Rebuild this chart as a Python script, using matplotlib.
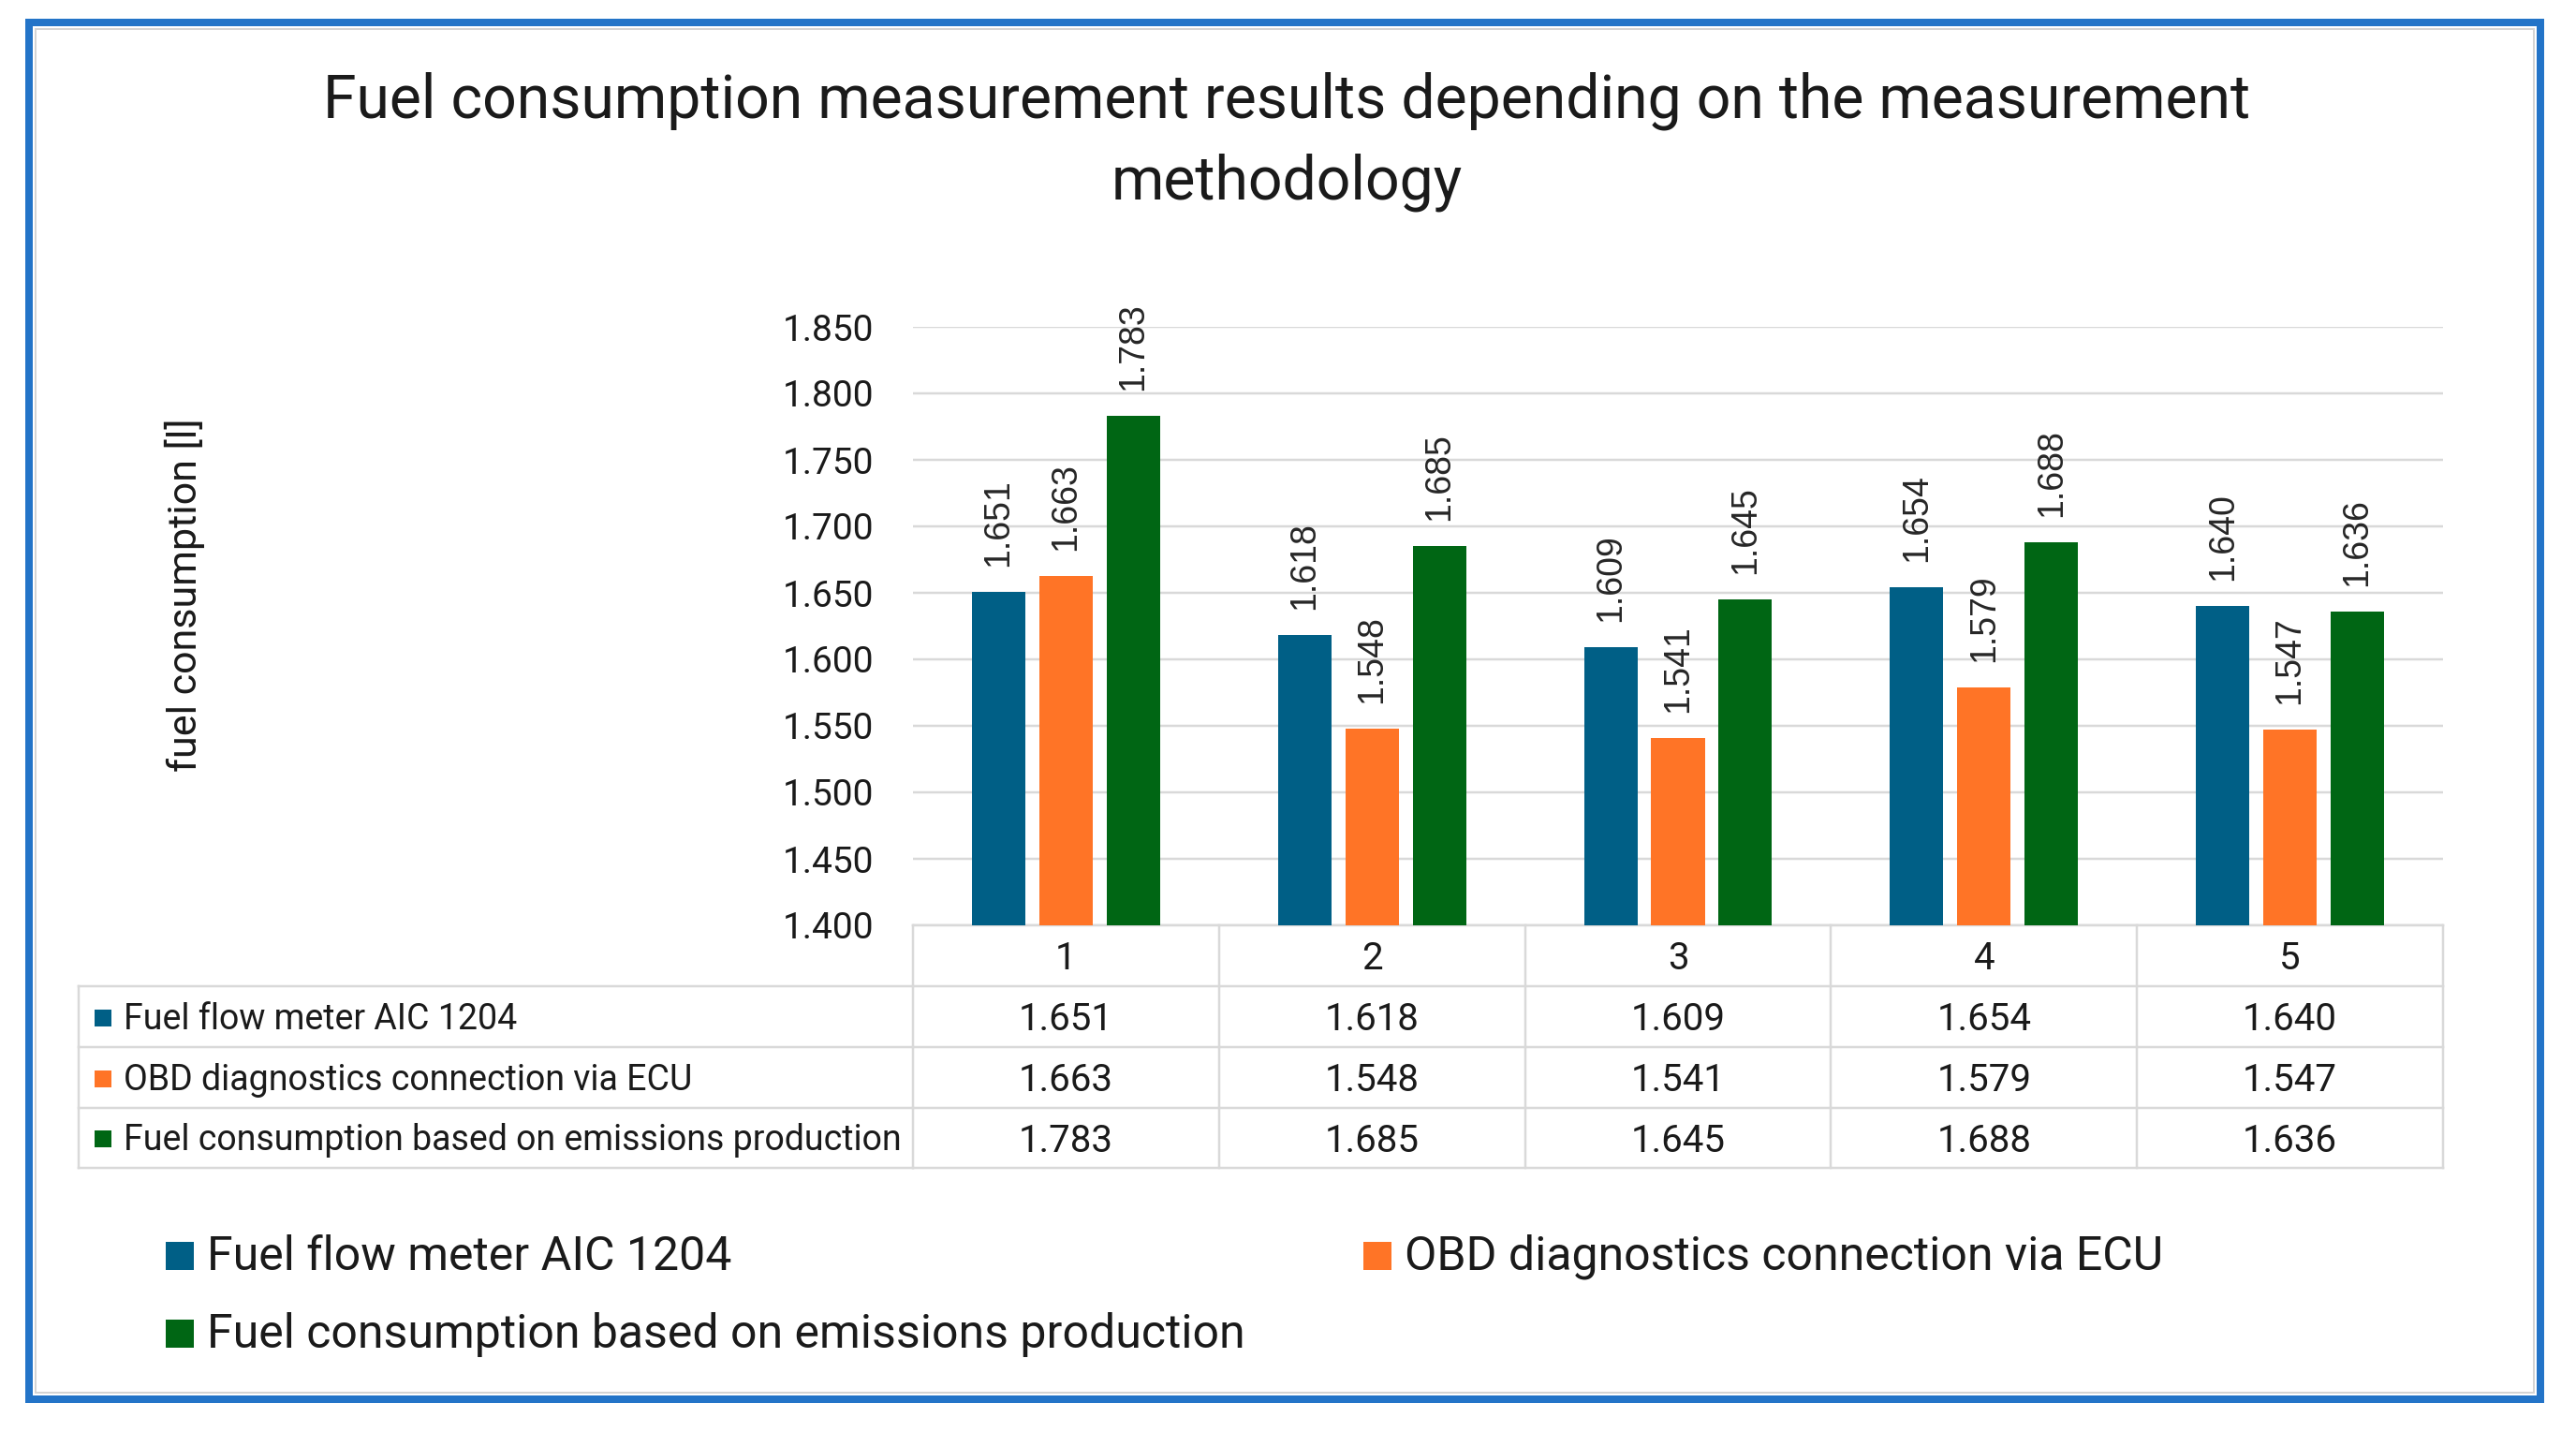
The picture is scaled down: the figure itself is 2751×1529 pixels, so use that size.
import numpy as np
import matplotlib
matplotlib.use('Agg')
import matplotlib.pyplot as plt
from matplotlib import transforms
from matplotlib.patches import Rectangle

categories = ['1', '2', '3', '4', '5']
series_names = ['Fuel flow meter AIC 1204',
                'OBD diagnostics connection via ECU',
                'Fuel consumption based on emissions production']
flow_meter = [1.651, 1.618, 1.609, 1.654, 1.640]
obd_ecu = [1.663, 1.548, 1.541, 1.579, 1.547]
emissions = [1.783, 1.685, 1.645, 1.688, 1.636]
y_ticks = [1.400, 1.450, 1.500, 1.550, 1.600, 1.650, 1.700, 1.750, 1.800, 1.850]

title = 'Fuel consumption measurement results depending on the measurement\nmethodology'
y_label = 'fuel consumption [l]'
colors = ['#005f86', '#ff7426', '#006614']
grid_color = '#d9d9d9'
text_font = 'Roboto'
label_font = 'Liberation Sans'

W, H = 2751, 1529
PX = 0.72  # points per pixel at dpi 100


def main():
	series = [flow_meter, obd_ecu, emissions]
	fig = plt.figure(figsize=(W / 100, H / 100), dpi=100)

	# overlay axes in pixel coordinates for frame, table and legend
	bg = fig.add_axes([0, 0, 1, 1], zorder=0)
	bg.set_xlim(0, W)
	bg.set_ylim(H, 0)
	bg.axis('off')

	bg.add_patch(Rectangle((38, 31), 2668, 1456, fill=False, edgecolor='#d4d4d4', lw=2 * PX))
	bg.add_patch(Rectangle((31, 24), 2682, 1470, fill=False, edgecolor='#2374c8', lw=8 * PX))

	bg.text(1374, 151, title, ha='center', va='center', family=text_font,
	        fontsize=46.4, linespacing=1.5, color='#1a1a1a')
	bg.text(197, 635, y_label, ha='center', va='center', rotation=90,
	        family=text_font, fontsize=31, color='#1a1a1a')

	# bar chart
	ax = fig.add_axes([975 / W, 1 - 988 / H, (2609 - 975) / W, (988 - 349) / H], zorder=1)
	ax.patch.set_alpha(0)
	x = np.arange(len(categories)) + 0.5
	offsets = [-0.22, 0.0, 0.22]
	for vals, off, c in zip(series, offsets, colors):
		bars = ax.bar(x + off, vals, width=0.175, color=c, zorder=3)
		for b, v in zip(bars, vals):
			ax.annotate(f'{v:.3f}', (b.get_x() + b.get_width() / 2, v),
			            xytext=(0, 27 * PX), textcoords='offset points',
			            rotation=90, ha='center', va='bottom',
			            family=label_font, fontsize=27, color='#262626',
			            annotation_clip=False)
	ax.set_xlim(0, len(categories))
	ax.set_ylim(y_ticks[0], y_ticks[-1])
	ax.set_yticks(y_ticks)
	ax.set_yticklabels([f'{t:.3f}' for t in y_ticks], family=text_font, fontsize=28, color='#1a1a1a')
	ax.tick_params(axis='y', length=0, pad=42 * PX)
	ax.set_xticks([])
	ax.grid(axis='y', color=grid_color, lw=2.5 * PX, zorder=0)
	for s in ax.spines.values():
		s.set_visible(False)

	# data table under the chart
	tr = transforms.blended_transform_factory(ax.transData, bg.transData)
	row_edges = [988, 1053, 1118, 1183, 1247]
	lw = 2.5 * PX
	n = len(categories)
	for yy in row_edges:
		bg.plot([0, n], [yy, yy], color=grid_color, lw=lw, transform=tr, zorder=2)
	for yy in row_edges[1:]:
		bg.plot([84, 975], [yy, yy], color=grid_color, lw=lw, zorder=2)
	bg.plot([84, 84], [row_edges[1], row_edges[-1]], color=grid_color, lw=lw, zorder=2)
	for k in range(n + 1):
		bg.plot([k, k], [row_edges[0], row_edges[-1]], color=grid_color, lw=lw, transform=tr, zorder=2)

	for i, cat in enumerate(categories):
		bg.text(x[i], (row_edges[0] + row_edges[1]) / 2 + 3, cat, transform=tr, ha='center',
		        va='center', family=text_font, fontsize=29, color='#1a1a1a')
	for r, (name, vals, c) in enumerate(zip(series_names, series, colors)):
		yc = (row_edges[r + 1] + row_edges[r + 2]) / 2
		bg.add_patch(Rectangle((101, yc - 8), 18, 18, color=c, lw=0))
		bg.text(132, yc + 3, name, ha='left', va='center', family=text_font,
		        fontsize=27, color='#1a1a1a')
		for i, v in enumerate(vals):
			bg.text(x[i], yc + 3, f'{v:.3f}', transform=tr, ha='center', va='center',
			        family=text_font, fontsize=29, color='#1a1a1a')

	# legend
	legend_pos = [(177, 1340), (1456, 1340), (177, 1423)]
	for (lx, ly), name, c in zip(legend_pos, series_names, colors):
		bg.add_patch(Rectangle((lx, ly - 14), 30, 30, color=c, lw=0))
		bg.text(lx + 44, ly + 2, name, ha='left', va='center', family=text_font,
		        fontsize=36, color='#1a1a1a')

	fig.savefig('out.png', dpi=100, facecolor='white')


if __name__ == "__main__":
	main()
